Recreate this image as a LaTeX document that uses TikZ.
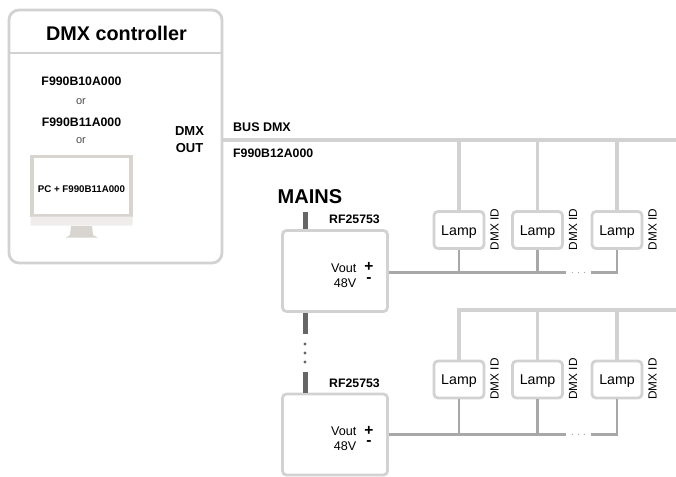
\documentclass[tikz,border=0pt]{standalone}
\usepackage{fontspec}
\setmainfont{Liberation Sans}
\definecolor{boxc}{HTML}{D2D2D2}
\definecolor{powc}{HTML}{A8A8A8}
\definecolor{mainc}{HTML}{666666}
\definecolor{pcc}{HTML}{D8D4CF}
\definecolor{pcl}{HTML}{EEEDEB}
\tikzset{
 box/.style={draw=boxc,line width=2.8pt,rounded corners=#1,fill=white,inner sep=0pt},
 box/.default=4pt,
 lampbox/.style={box=4pt,minimum width=50pt,minimum height=37pt,text height=10pt,text depth=0pt,font=\fontsize{14.2}{16}\selectfont},
 psubox/.style={box=4pt,minimum width=105pt,minimum height=81pt},
 did/.style={rotate=90,font=\fontsize{11.8}{13}\selectfont,inner sep=0pt},
 bl/.style={font=\bfseries\fontsize{12.3}{14}\selectfont,inner sep=0pt},
 reg/.style={font=\fontsize{11}{13}\selectfont,inner sep=0pt},
 bus/.style={draw=boxc,line width=3.4pt},
 pow/.style={draw=powc,line width=2.4pt},
 mains/.style={draw=mainc,line width=5pt},
}
\begin{document}
\begin{tikzpicture}[x=1pt,y=-1pt]
\useasboundingbox[fill=white] (0,0) rectangle (676,476);
% controller
\node[box=10pt,minimum width=213pt,minimum height=253pt] (ctrl) at (115.5,136.5) {};
\coordinate (hl) at (9,53); \coordinate (hr) at (222,53);
\draw[draw=boxc,line width=2.6pt] (hl) -- (hr);
\node[font=\bfseries\fontsize{19.8}{22}\selectfont,inner sep=0pt] (title) at (116.5,33) {DMX controller};
\node[bl] (p1) at (81.5,81) {F990B10A000};
\node[reg,text=black!70] (or1) at (81,102) {or};
\node[bl] (p2) at (81.5,122) {F990B11A000};
\node[reg,text=black!70] (or2) at (81,140.5) {or};
% monitor
\node[draw=pcc,line width=3.4pt,fill=white,minimum width=99pt,minimum height=59pt,inner sep=0pt] (screen) at (81.5,186) {};
\node[font=\bfseries\fontsize{9.7}{11}\selectfont,inner sep=0pt] (pc) at (81.5,189.5) {PC + F990B11A000};
\fill[pcl,rounded corners=1pt] (30.5,216.5) rectangle (132.5,225.5);
\fill[pcc] (71,226) -- (92,226) -- (93,235) -- (98,237.5) -- (66,237.5) -- (70,235) -- cycle;
\node[bl,font=\bfseries\fontsize{13}{15}\selectfont] (o1) at (189.5,131.5) {DMX};
\node[bl,font=\bfseries\fontsize{13}{15}\selectfont] (o2) at (189.5,148) {OUT};
% bus
\coordinate (busEnd) at (676,140);
\draw[bus] (ctrl.east |- busEnd) -- (busEnd);
\node[bl,anchor=west,font=\bfseries\fontsize{12.5}{14}\selectfont] (bt) at (233,127) {BUS DMX};
\node[bl,anchor=west] (bb) at (233,153) {F990B12A000};
% mains
\node[font=\bfseries\fontsize{20}{22}\selectfont,inner sep=0pt,anchor=west] (mainsl) at (277.5,197) {MAINS};
\coordinate (m0) at (305,212);
\node[psubox] (psu1) at (335,271) {};
\node[psubox] (psu2) at (335,434.5) {};
\coordinate (m1) at (305,334); \coordinate (m2) at (305,372);
\draw[mains] (m0) -- (m0 |- psu1.north);
\draw[mains] (m1 |- psu1.south) -- (m1);
\draw[mains] (m2) -- (m2 |- psu2.north);
\foreach \yy [count=\i] in {344,353,362} \fill[mainc] (305,\yy) circle (1.6pt);
\node[bl] (r1) at (354.5,219.5) {RF25753};
\node[bl] (r2) at (354.5,383.5) {RF25753};
% PSU labels
\foreach \n/\dy in {1/0,2/163.5}{
 \node[reg,anchor=east,font=\fontsize{12.6}{14}\selectfont] (vo\n) at (356.5,268+\dy) {Vout};
 \node[reg,anchor=east,font=\fontsize{12.6}{14}\selectfont] (vv\n) at (356.5,283+\dy) {48V};
 \node[inner sep=0pt,font=\bfseries\fontsize{15.5}{16}\selectfont] (pl\n) at (369,267+\dy) {+};
 \node[inner sep=0pt,font=\bfseries\fontsize{15.5}{16}\selectfont] (mi\n) at (369,280+\dy) {-};
}
% Lamps
\foreach \n/\x in {a/459,b/537.5,c/617}{
 \node[lampbox] (l1\n) at (\x,230) {Lamp};
 \node[did] (d1\n) at (\x+35.5,229.5) {DMX ID};
 \node[lampbox] (l2\n) at (\x,379.5) {Lamp};
 \node[did] (d2\n) at (\x+35.5,379) {DMX ID};
}
\coordinate (b2s) at (459,310);
\coordinate (b2e) at (676,310);
\draw[bus] (l2a.north) -- (b2s) -- (b2e);
\foreach \n in {a,b,c}{
 \draw[bus] (l1\n.north) -- (l1\n.north |- busEnd);
}
\foreach \n in {b,c}{
 \draw[bus] (l2\n.north) -- (l2\n.north |- b2e);
}
% power
\foreach \r/\yy in {1/272.5,2/434.5}{
 \coordinate (pw\r) at (617,\yy);
 \coordinate (g\r a) at (566,\yy);
 \coordinate (g\r b) at (591,\yy);
 \draw[pow] (psu\r.east |- pw\r) -- (g\r a);
 \draw[pow] (g\r b) -- (pw\r) -- (l\r c.south);
 \draw[pow] (l\r a.south) -- (l\r a.south |- pw\r);
 \draw[pow] (l\r b.south) -- (l\r b.south |- pw\r);
 \foreach \xx in {572.5,578.5,584.5} \fill[powc] (\xx,\yy) circle (0.7pt);
}
\end{tikzpicture}
\end{document}
